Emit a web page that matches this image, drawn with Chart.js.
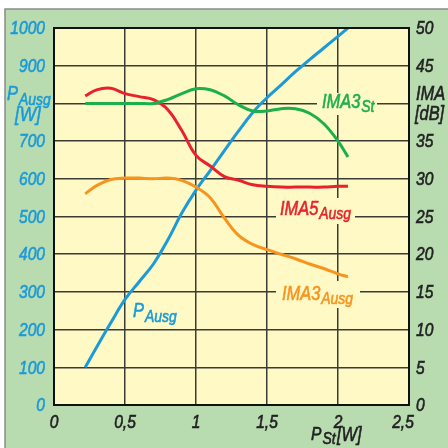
<!DOCTYPE html>
<html>
<head>
<meta charset="utf-8">
<script src="https://cdn.jsdelivr.net/npm/chart.js@4/dist/chart.umd.min.js"></script>
<style>
  html, body { margin: 0; padding: 0; background: #fff; }
  #wrap { width: 448px; height: 448px; }
</style>
</head>
<body>
<div id="wrap"><canvas id="chart" width="448" height="448"></canvas></div>
<script>
// input power P_St [W]
const pSt = [0.22, 0.3, 0.4, 0.5, 0.6, 0.7, 0.8, 0.9, 1.0, 1.1, 1.2, 1.3, 1.4, 1.5, 1.6, 1.7, 1.8, 1.9, 2.0, 2.07];
// output power P_Ausg [W] (left axis)
const pAusg = [100, 153, 218, 280, 327, 374, 437, 509, 570, 622, 675, 727, 776, 815, 849, 884, 916, 947, 978, 1000];
// intermodulation [dB] (right axis)
const ima3St = [40.0, 40.0, 40.0, 40.0, 40.0, 40.0, 40.5, 41.3, 41.95, 41.8, 41.0, 39.8, 39.0, 39.0, 39.3, 39.3, 38.7, 37.3, 35.0, 32.9];
const ima5Ausg = [41.0, 41.8, 42.0, 41.3, 40.9, 40.5, 39.2, 36.4, 33.1, 31.7, 30.3, 29.8, 29.2, 29.0, 28.9, 28.9, 28.9, 28.9, 29.0, 29.0];
const ima3Ausg = [28.0, 29.1, 29.9, 30.1, 30.1, 30.0, 30.1, 29.8, 28.9, 27.5, 24.8, 22.5, 21.3, 20.6, 20.0, 19.4, 18.7, 18.1, 17.4, 17.0];

// tick values whose place is taken by the axis titles
const hiddenLeft = [800];
const hiddenRight = [40];

const FONT = '"Liberation Sans", Arial, sans-serif';
const SQUEEZE = 0.82; // makes a narrow face out of Liberation Sans
const BLUE = "#1b9ad8";
const RED = "#e8222c";
const GREEN = "#1bb04b";
const ORANGE = "#f7941e";
const INK = "#222";
const PLOT_BG = "#fff9c6";
const OUTER_BG = "#b8dcb0";

function pts(ys) {
  return pSt.map((x, i) => ({ x: x, y: ys[i] }));
}

// narrow italic text, returns drawn width
function narrow(ctx, txt, x, y, size, color, align, base) {
  ctx.save();
  ctx.font = "italic " + size + "px " + FONT;
  ctx.fillStyle = color;
  ctx.strokeStyle = color;
  ctx.lineWidth = 0.6;
  ctx.textAlign = align || "left";
  ctx.textBaseline = base || "alphabetic";
  ctx.translate(x, y);
  ctx.scale(SQUEEZE, 1);
  ctx.fillText(txt, 0, 0);
  ctx.strokeText(txt, 0, 0);
  const w = ctx.measureText(txt).width * SQUEEZE;
  ctx.restore();
  return w;
}

function subText(ctx, x, y, main, sub, color, size, subSize, drop) {
  const w = narrow(ctx, main, x, y, size, color);
  narrow(ctx, sub, x + w + 1, y + drop, subSize, color);
}

const decor = {
  id: "decor",
  beforeDraw(chart) {
    const ctx = chart.ctx;
    const a = chart.chartArea;
    ctx.save();
    ctx.fillStyle = "#fff";
    ctx.fillRect(0, 0, chart.width, chart.height);
    ctx.fillStyle = OUTER_BG;
    ctx.fillRect(5, 9, chart.width - 5, chart.height - 9);
    ctx.strokeStyle = "#8a8a8a";
    ctx.lineWidth = 1.5;
    ctx.beginPath();
    ctx.moveTo(5, chart.height);
    ctx.lineTo(5, 9);
    ctx.lineTo(chart.width, 9);
    ctx.stroke();
    ctx.fillStyle = PLOT_BG;
    ctx.fillRect(a.left, a.top, a.right - a.left, a.bottom - a.top);
    ctx.restore();
  },
  beforeDatasetsDraw(chart) {
    // yellow boxes that break the grid behind the curve labels
    const ctx = chart.ctx;
    ctx.save();
    ctx.fillStyle = PLOT_BG;
    ctx.fillRect(317, 93, 60, 22);
    ctx.fillRect(276, 198, 79, 26);
    ctx.fillRect(276, 281, 84, 27);
    ctx.restore();
  },
  afterDatasetsDraw(chart) {
    const ctx = chart.ctx;
    const a = chart.chartArea;
    ctx.save();
    ctx.strokeStyle = "#111";
    ctx.lineWidth = 2;
    ctx.strokeRect(a.left, a.top, a.right - a.left, a.bottom - a.top);
    ctx.restore();

    // tick labels, placed by the chart's scales
    const sx = chart.scales.x, sy = chart.scales.y, sy1 = chart.scales.y1;
    sx.ticks.forEach((t, i) => {
      let px = sx.getPixelForValue(t.value);
      if (i === sx.ticks.length - 1) px -= 6;
      narrow(ctx, String(t.value).replace(".", ","), px, a.bottom + 8, 19, INK, "center", "top");
    });
    sy.ticks.forEach(t => {
      if (hiddenLeft.includes(t.value)) return;
      narrow(ctx, String(t.value), a.left - 9, sy.getPixelForValue(t.value) + 1, 19, BLUE, "right", "middle");
    });
    sy1.ticks.forEach(t => {
      if (hiddenRight.includes(t.value)) return;
      narrow(ctx, String(t.value), a.right + 7, sy1.getPixelForValue(t.value) + 1, 19, INK, "left", "middle");
    });

    // curve labels
    subText(ctx, 322, 108, "IMA3", "St", GREEN, 20, 17, 4);
    subText(ctx, 280, 215, "IMA5", "Ausg", RED, 20, 17, 4);
    subText(ctx, 282, 300, "IMA3", "Ausg", ORANGE, 20, 17, 4);
    subText(ctx, 133, 317, "P", "Ausg", BLUE, 20, 17, 5);

    // axis titles
    subText(ctx, 7, 100, "P", "Ausg", BLUE, 20, 17, 5);
    narrow(ctx, "[W]", 15, 121, 21, BLUE);
    narrow(ctx, "IMA", 416, 100, 20, INK);
    narrow(ctx, "[dB]", 415, 120, 20, INK);
    subText(ctx, 311, 440, "P", "St", INK, 19, 17, 4);
    narrow(ctx, "[W]", 337, 441, 20, INK);
  }
};

function lineSet(label, ys, color, axis) {
  return {
    label: label,
    data: pts(ys),
    yAxisID: axis,
    borderColor: color,
    borderWidth: 3,
    pointRadius: 0,
    tension: 0.4,
    fill: false
  };
}

new Chart(document.getElementById("chart").getContext("2d"), {
  type: "line",
  data: {
    datasets: [
      lineSet("IMA3 St", ima3St, GREEN, "y1"),
      lineSet("IMA5 Ausg", ima5Ausg, RED, "y1"),
      lineSet("IMA3 Ausg", ima3Ausg, ORANGE, "y1"),
      lineSet("P Ausg", pAusg, BLUE, "y")
    ]
  },
  options: {
    responsive: false,
    animation: false,
    layout: { padding: { top: 28, left: 0, right: 0, bottom: 0 } },
    plugins: { legend: { display: false }, tooltip: { enabled: false } },
    scales: {
      x: {
        type: "linear",
        min: 0,
        max: 2.5,
        afterFit(s) { s.height = 43; },
        grid: { color: "#3c3c36", lineWidth: 1.5, drawTicks: false },
        border: { color: "#111", width: 2 },
        ticks: { stepSize: 0.5, display: false }
      },
      y: {
        position: "left",
        min: 0,
        max: 1000,
        afterFit(s) { s.width = 54; },
        grid: { color: "#3c3c36", lineWidth: 1.5, drawTicks: false },
        border: { color: "#111", width: 2 },
        ticks: { stepSize: 100, display: false }
      },
      y1: {
        position: "right",
        min: 0,
        max: 50,
        afterFit(s) { s.width = 39; },
        grid: { display: false, drawTicks: false },
        border: { color: "#111", width: 2 },
        ticks: { stepSize: 5, display: false }
      }
    }
  },
  plugins: [decor]
});
</script>
</body>
</html>
